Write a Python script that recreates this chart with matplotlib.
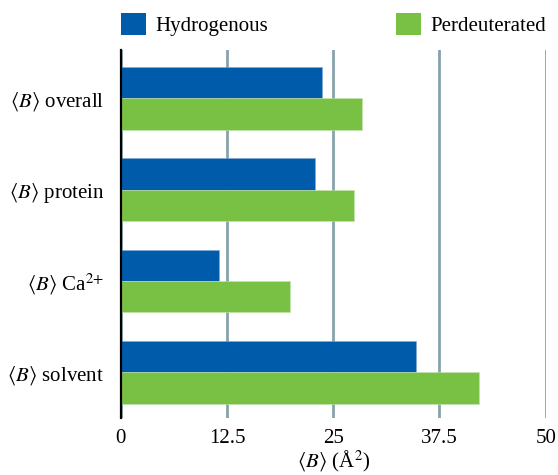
import matplotlib
matplotlib.use('Agg')
import matplotlib.pyplot as plt
from matplotlib.patches import Patch
import numpy as np

categories = [r'$\langle B\rangle$ overall', r'$\langle B\rangle$ protein',
              r'$\langle B\rangle$ Ca$^{2\!+}$', r'$\langle B\rangle$ solvent']
hydrogenous = [23.7, 22.9, 11.6, 34.7]
perdeuterated = [28.4, 27.4, 19.9, 42.1]
series_names = ['Hydrogenous', 'Perdeuterated']
xticks = [0, 12.5, 25, 37.5, 50]
xticklabels = ['0', '12.5', '25', '37.5', '50']

BLUE = '#005baa'
GREEN = '#78c144'
GRID = '#87a2ab'

plt.rcParams['font.family'] = ['Liberation Serif', 'DejaVu Serif']
plt.rcParams['mathtext.fontset'] = 'stix'
plt.rcParams['font.size'] = 15


def main():
    fig = plt.figure(figsize=(5.58, 4.75), dpi=100)
    ax = fig.add_axes([0.2163, 0.12, 0.7616, 0.7747])

    y = np.arange(len(categories))
    h = 0.344
    ax.barh(y - h / 2, hydrogenous, height=h, color=BLUE,
            edgecolor='#7fa9d4', linewidth=0.4)
    ax.barh(y + h / 2, perdeuterated, height=h, color=GREEN,
            edgecolor='#c4e3ad', linewidth=0.4)

    ax.set_xlim(0, 50)
    ax.set_ylim(3.5, -0.53)
    ax.set_xticks(xticks)
    ax.set_xticklabels(xticklabels)
    ax.set_yticks(y)
    ax.set_yticklabels(categories)
    ax.tick_params(axis='both', length=0)
    ax.tick_params(axis='x', pad=8)
    ax.tick_params(axis='y', pad=12)

    ax.set_axisbelow(True)
    ax.xaxis.grid(True, color=GRID, linewidth=2.0)
    for s in ['top', 'right', 'bottom']:
        ax.spines[s].set_visible(False)
    ax.spines['left'].set_linewidth(1.6)
    ax.spines['left'].set_color('black')
    ax.spines['left'].set_zorder(5)

    ax.set_xlabel(r'$\langle B\rangle$ (Å$^{2}$)', labelpad=0.5)

    handles = [Patch(facecolor=BLUE), Patch(facecolor=GREEN)]
    ax.legend(handles, series_names, ncol=2, loc='lower left',
              bbox_to_anchor=(0, 1.038, 1, 0.1), mode='expand',
              frameon=False, borderpad=0, borderaxespad=0,
              handlelength=1.2, handleheight=1.2, handletextpad=0.45)

    fig.savefig('out.png', dpi=100)


if __name__ == "__main__":
    main()
